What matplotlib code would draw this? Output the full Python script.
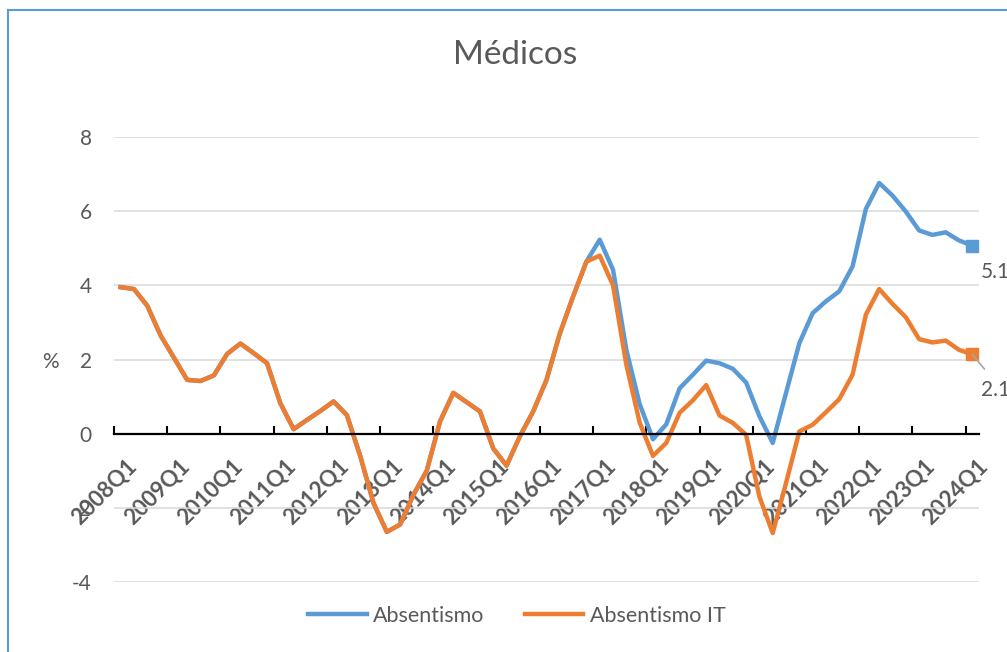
import matplotlib
matplotlib.use('Agg')
import matplotlib.pyplot as plt
import matplotlib.transforms as mtrans
from matplotlib.patches import Rectangle
import numpy as np

plt.rcParams['font.family'] = ['Lato', 'DejaVu Sans']
plt.rcParams['axes.unicode_minus'] = False

# quarterly labels 2008Q1 .. 2024Q1
quarters = [f'{y}Q{q}' for y in range(2008, 2025) for q in range(1, 5)][:65]

absentismo_it = [3.95, 3.90, 3.45, 2.65, 2.05, 1.45, 1.42, 1.57, 2.15, 2.43,
                 2.17, 1.90, 0.82, 0.12, 0.37, 0.61, 0.87, 0.50, -0.60, -1.87,
                 -2.65, -2.45, -1.65, -1.00, 0.33, 1.10, 0.85, 0.60, -0.40, -0.86,
                 -0.07, 0.60, 1.45, 2.70, 3.70, 4.64, 4.80, 4.00, 1.86, 0.30,
                 -0.60, -0.25, 0.56, 0.90, 1.31, 0.49, 0.29, -0.03, -1.70, -2.68,
                 -1.33, 0.06, 0.24, 0.58, 0.93, 1.59, 3.21, 3.90, 3.50, 3.14,
                 2.55, 2.46, 2.51, 2.26, 2.14]

absentismo = absentismo_it[:36] + [5.23, 4.42, 2.26, 0.80, -0.15, 0.25, 1.22, 1.59,
                                    1.97, 1.90, 1.75, 1.38, 0.47, -0.25, 1.10, 2.44,
                                    3.25, 3.57, 3.84, 4.51, 6.06, 6.76, 6.42, 5.99,
                                    5.48, 5.36, 5.43, 5.21, 5.07]

blue = '#5b9bd5'
orange = '#ed7d31'
grey_txt = '#595959'

fig = plt.figure(figsize=(10.07, 6.52), dpi=100)
ax = fig.add_axes([114/1007, 1-582/652, 865/1007, 445/652])

x = np.arange(len(quarters))
ax.plot(x, absentismo, color=blue, lw=3.2, label='Absentismo', solid_joinstyle='round')
ax.plot(x, absentismo_it, color=orange, lw=3.2, label='Absentismo IT', solid_joinstyle='round')
ax.plot(x[-1], absentismo[-1], 's', color=blue, ms=9)
ax.plot(x[-1], absentismo_it[-1], 's', color=orange, ms=9)

ax.set_xlim(-0.5, len(quarters) - 0.5)
ax.set_ylim(-4, 8)
ax.set_yticks(np.arange(-4, 9, 2))
ax.yaxis.grid(True, color='#d9d9d9', lw=1.1)
ax.set_axisbelow(True)
ax.tick_params(axis='y', length=0, pad=16, labelsize=15, labelcolor=grey_txt)

for s in ['left', 'right', 'top']:
    ax.spines[s].set_visible(False)
ax.spines['bottom'].set_position(('data', 0))
ax.spines['bottom'].set_linewidth(1.6)
ax.spines['bottom'].set_color('black')

# ticks on category boundaries, labels on category centres
ax.set_xticks(np.arange(-0.5, len(quarters), 4))
ax.set_xticklabels([])
ax.tick_params(axis='x', which='major', direction='in', length=6, width=1.5, color='black')
lab_pos = x[::4]
ax.set_xticks(lab_pos, minor=True)
ax.set_xticklabels([quarters[i] for i in lab_pos], minor=True, rotation=45,
                   ha='right', va='top', rotation_mode='anchor',
                   fontsize=16, color=grey_txt, fontweight='bold')
ax.tick_params(axis='x', which='minor', length=0, pad=16)
off = mtrans.ScaledTranslation(5/100, 0, fig.dpi_scale_trans)
for lab in ax.get_xticklabels(minor=True):
    lab.set_transform(lab.get_transform() + off)

# end labels
ax.annotate(f'{absentismo[-1]:.1f}', xy=(x[-1], absentismo[-1]), xytext=(6, -19),
            textcoords='offset points', fontsize=15, color=grey_txt,
            ha='left', va='center', annotation_clip=False)
ax.annotate(f'{absentismo_it[-1]:.1f}', xy=(x[-1], absentismo_it[-1]), xytext=(6, -26),
            textcoords='offset points', fontsize=15, color=grey_txt,
            ha='left', va='center', annotation_clip=False,
            arrowprops=dict(arrowstyle='-', color='#a6a6a6', lw=1.2,
                            shrinkA=8, shrinkB=0, relpos=(0.45, 1.0)))

fig.text(50/1007, 1-362/652, '%', fontsize=15, color=grey_txt, ha='center', va='center')
fig.text(515/1007, 1-55/652, 'Médicos', fontsize=24, color=grey_txt, ha='center', va='center')

fig.legend(loc='center', bbox_to_anchor=(517/1007, 1-616/652), ncol=2, frameon=False,
           fontsize=15.5, handlelength=2.7, handletextpad=0.3, columnspacing=1.9,
           labelcolor=grey_txt)

fig.add_artist(Rectangle((8/1007, -0.2), 1.2, 1.2 - 10/652, transform=fig.transFigure,
                         fill=False, edgecolor='#5b9bd5', lw=1.5, clip_on=False))

fig.savefig('out.png', dpi=100)
